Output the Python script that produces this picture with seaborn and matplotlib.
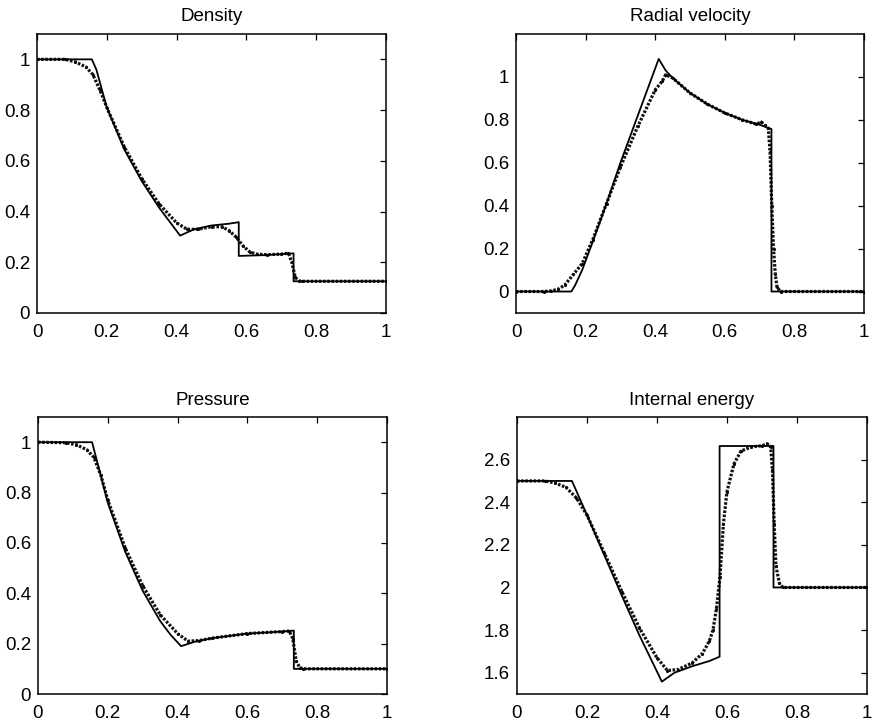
import matplotlib
matplotlib.use("Agg")
import matplotlib.pyplot as plt
import seaborn as sns
from matplotlib.ticker import FuncFormatter

# ---- Density: exact solution and particle profile ----
rho_exact_x = [0, 0.157, 0.17, 0.2, 0.25, 0.3, 0.35, 0.38, 0.41, 0.45, 0.5, 0.55, 0.578, 0.578, 0.65, 0.735, 0.735, 1.0]
rho_exact_y = [1, 1, 0.96, 0.81, 0.645, 0.52, 0.415, 0.36, 0.305, 0.33, 0.345, 0.352, 0.358, 0.225, 0.228, 0.235, 0.125, 0.125]
rho_part_x = [0, 0.08, 0.11, 0.14, 0.16, 0.18, 0.2, 0.25, 0.3, 0.35, 0.4, 0.43, 0.46, 0.5, 0.53, 0.55,
              0.57, 0.59, 0.61, 0.63, 0.66, 0.7, 0.72, 0.73, 0.74, 0.75, 0.76, 1.0]
rho_part_y = [1, 1, 0.99, 0.97, 0.94, 0.88, 0.81, 0.655, 0.53, 0.43, 0.355, 0.33, 0.33, 0.34, 0.34, 0.325,
              0.3, 0.265, 0.24, 0.232, 0.23, 0.232, 0.236, 0.2, 0.14, 0.127, 0.125, 0.125]

# ---- Radial velocity ----
vel_exact_x = [0, 0.159, 0.17, 0.19, 0.22, 0.26, 0.3, 0.35, 0.41, 0.43, 0.45, 0.5, 0.55, 0.6, 0.65, 0.7, 0.734, 0.734, 1.0]
vel_exact_y = [0, 0, 0.03, 0.1, 0.23, 0.41, 0.6, 0.82, 1.084, 1.03, 0.995, 0.925, 0.873, 0.832, 0.8, 0.777, 0.757, 0, 0]
vel_part_x = [0, 0.08, 0.1, 0.12, 0.14, 0.165, 0.19, 0.22, 0.26, 0.3, 0.35, 0.4, 0.42, 0.43, 0.45, 0.5, 0.55,
              0.6, 0.65, 0.69, 0.705, 0.715, 0.725, 0.73, 0.735, 0.74, 0.745, 0.75, 0.76, 1.0]
vel_part_y = [0, 0, 0.003, 0.01, 0.03, 0.08, 0.13, 0.24, 0.41, 0.58, 0.77, 0.94, 0.98, 1.01, 0.995, 0.925, 0.873,
              0.832, 0.8, 0.78, 0.79, 0.775, 0.76, 0.65, 0.4, 0.2, 0.08, 0.02, 0, 0]

# ---- Pressure ----
pres_exact_x = [0, 0.155, 0.17, 0.2, 0.25, 0.3, 0.35, 0.38, 0.41, 0.45, 0.5, 0.6, 0.7, 0.733, 0.733, 1.0]
pres_exact_y = [1, 1, 0.92, 0.76, 0.565, 0.41, 0.29, 0.235, 0.19, 0.208, 0.222, 0.24, 0.248, 0.252, 0.1, 0.1]
pres_part_x = [0, 0.08, 0.11, 0.14, 0.16, 0.18, 0.2, 0.25, 0.3, 0.35, 0.4, 0.43, 0.46, 0.5, 0.6, 0.7, 0.72,
               0.73, 0.74, 0.75, 0.76, 1.0]
pres_part_y = [1, 0.998, 0.99, 0.97, 0.94, 0.87, 0.77, 0.58, 0.43, 0.315, 0.24, 0.21, 0.212, 0.222, 0.24, 0.248,
               0.25, 0.22, 0.13, 0.105, 0.1, 0.1]

# ---- Internal energy ----
ener_exact_x = [0, 0.157, 0.2, 0.25, 0.3, 0.35, 0.414, 0.45, 0.5, 0.55, 0.579, 0.579, 0.733, 0.733, 1.0]
ener_exact_y = [2.5, 2.5, 2.34, 2.15, 1.96, 1.775, 1.558, 1.6, 1.63, 1.655, 1.675, 2.664, 2.664, 2.0, 2.0]
ener_part_x = [0, 0.08, 0.11, 0.14, 0.17, 0.2, 0.25, 0.3, 0.35, 0.4, 0.43, 0.46, 0.5, 0.53, 0.55, 0.56, 0.57,
               0.58, 0.59, 0.6, 0.62, 0.64, 0.67, 0.7, 0.715, 0.725, 0.73, 0.735, 0.74, 0.75, 0.76, 1.0]
ener_part_y = [2.5, 2.5, 2.49, 2.47, 2.42, 2.34, 2.16, 1.98, 1.81, 1.67, 1.61, 1.615, 1.645, 1.69, 1.75, 1.8, 1.9,
               2.05, 2.3, 2.45, 2.58, 2.64, 2.66, 2.665, 2.675, 2.66, 2.55, 2.3, 2.1, 2.02, 2.0, 2.0]

titles = ["Density", "Radial velocity", "Pressure", "Internal energy"]
x_ticks = [0, 0.2, 0.4, 0.6, 0.8, 1]

sns.set_style("white")
plt.rcParams["font.family"] = ["Liberation Sans", "DejaVu Sans"]
plt.rcParams["text.color"] = "black"

fig = plt.figure(figsize=(8.77, 7.23), dpi=100)

rects = [
    [0.0422, 0.5671, 0.398, 0.3859],
    [0.5884, 0.5671, 0.3968, 0.3859],
    [0.0433, 0.0401, 0.398, 0.3831],
    [0.5895, 0.0401, 0.399, 0.3831],
]
panels = [
    (rho_exact_x, rho_exact_y, rho_part_x, rho_part_y, (0, 1.1), [0, 0.2, 0.4, 0.6, 0.8, 1]),
    (vel_exact_x, vel_exact_y, vel_part_x, vel_part_y, (-0.1, 1.2), [0, 0.2, 0.4, 0.6, 0.8, 1]),
    (pres_exact_x, pres_exact_y, pres_part_x, pres_part_y, (0, 1.1), [0, 0.2, 0.4, 0.6, 0.8, 1]),
    (ener_exact_x, ener_exact_y, ener_part_x, ener_part_y, (1.5, 2.8), [1.6, 1.8, 2, 2.2, 2.4, 2.6]),
]

fmt = FuncFormatter(lambda v, p: f"{v:g}")

for rect, title, (ex, ey, px, py, ylim, yt) in zip(rects, titles, panels):
    ax = fig.add_axes(rect)
    # particle profile: dense dotted band
    sns.lineplot(x=px, y=py, ax=ax, color="#111111", lw=2.3, sort=False, estimator=None,
                 linestyle=(0, (0.8, 0.5)))
    sns.scatterplot(x=px, y=py, ax=ax, color="k", s=5, linewidth=0)
    # exact solution
    sns.lineplot(x=ex, y=ey, ax=ax, color="k", lw=1.3, sort=False, estimator=None)
    ax.set_xlim(0, 1)
    ax.set_ylim(*ylim)
    ax.set_xticks(x_ticks)
    ax.set_yticks(yt)
    ax.xaxis.set_major_formatter(fmt)
    ax.yaxis.set_major_formatter(fmt)
    ax.tick_params(direction="in", top=True, right=True, length=4, width=0.9,
                   labelsize=13.5, colors="k")
    ax.tick_params(axis="x", pad=8)
    ax.tick_params(axis="y", pad=5)
    for s in ax.spines.values():
        s.set_color("k")
        s.set_linewidth(1.1)
    ax.set_title(title, fontsize=13.5, pad=9, color="k")
    ax.set_xlabel("")
    ax.set_ylabel("")

fig.savefig("out.png", dpi=100)
